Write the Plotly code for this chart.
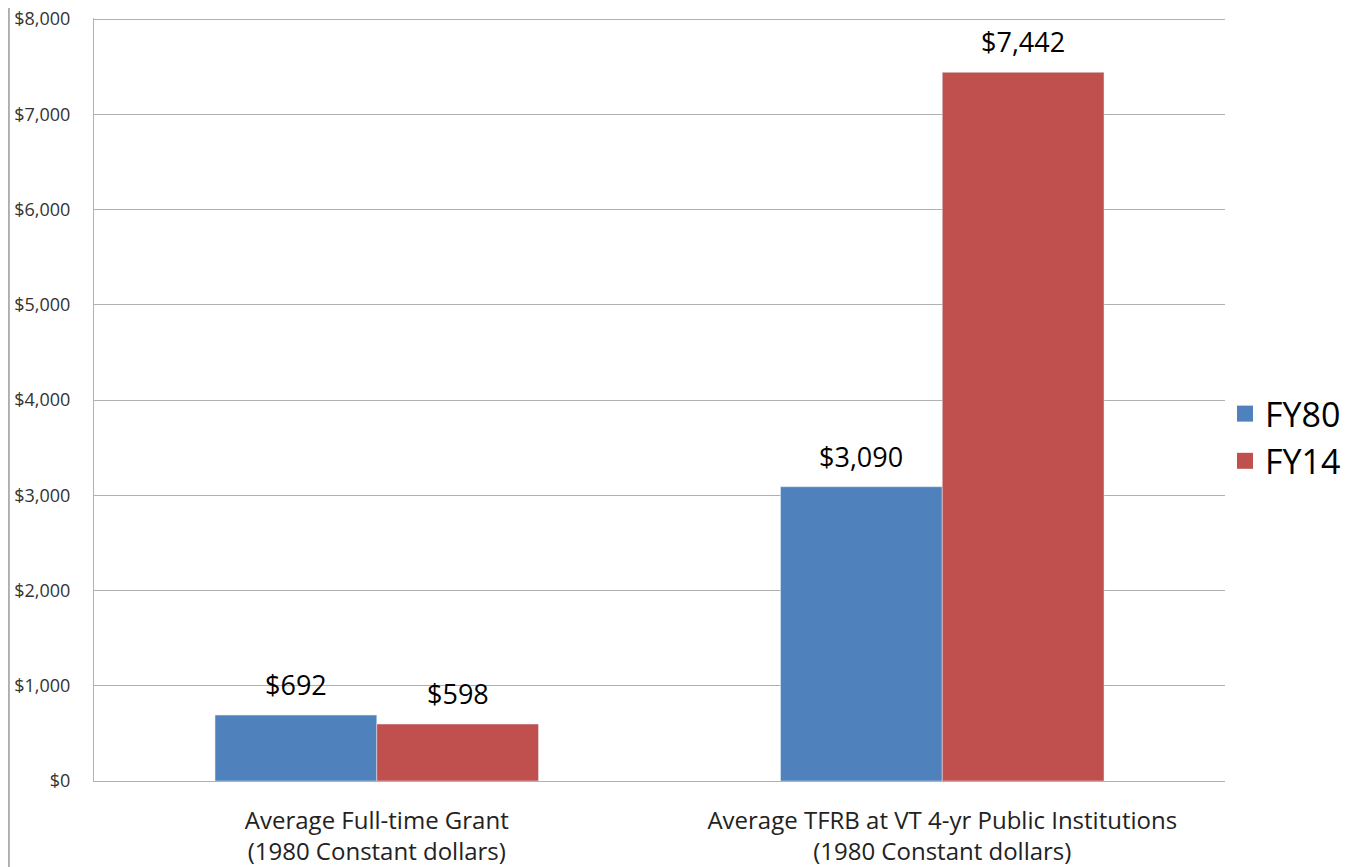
import plotly.graph_objects as go

categories = ["Average Full-time Grant<br>(1980 Constant dollars)",
              "Average TFRB at VT 4-yr Public Institutions<br>(1980 Constant dollars)"]
fy80 = [692, 3090]
fy14 = [598, 7442]
series_names = ["FY80", "FY14"]
colors = ["#4F81BD", "#C0504D"]
tick_vals = [0, 1000, 2000, 3000, 4000, 5000, 6000, 7000, 8000]

font = "Open Sans, Noto Sans, sans-serif"

fig = go.Figure()
for i, (name, vals, col) in enumerate(zip(series_names, [fy80, fy14], colors)):
    fig.add_trace(go.Bar(x=categories, y=vals, name=name, marker_color=col,
                         showlegend=False))
    # legend proxies with bigger squares
    fig.add_trace(go.Scatter(
        x=[None], y=[None], mode="markers", name=name,
        marker=dict(symbol="square", size=22, color=col)))
    # value labels above bars
    shift = -81 if i == 0 else 81
    for cat, v in zip(categories, vals):
        fig.add_annotation(x=cat, y=v, text=f"${v:,}", showarrow=False,
                           xshift=shift, yanchor="bottom", yshift=10,
                           font=dict(size=27, color="#000000", family=font))

# page body adds an 8px offset; margins are set relative to that
fig.update_layout(
    width=1380, height=867,
    margin=dict(l=86, r=158, t=10, b=94),
    paper_bgcolor="white", plot_bgcolor="white",
    barmode="group", bargap=0.428, bargroupgap=0,
    font=dict(family=font, color="#222222"),
    legend=dict(xref="container", yref="container",
                x=0.8819, xanchor="left", y=0.5046, yanchor="middle",
                font=dict(size=34, color="#000000"), tracegroupgap=24,
                itemwidth=30),
    shapes=[dict(type="line", xref="paper", yref="paper",
                 x0=-0.0752, x1=-0.0752, y0=-0.2, y1=1.1,
                 line=dict(color="#999999", width=1.5))],
)
# a little headroom above 8000 so its gridline is kept
fig.update_yaxes(range=[0, 8012], tickvals=tick_vals,
                 ticktext=[f"${v:,}" for v in tick_vals],
                 showgrid=True, gridcolor="#b0b0b0", gridwidth=1,
                 showline=True, linecolor="#b0b0b0", linewidth=1,
                 tickfont=dict(size=18, color="#333333"),
                 ticklabelstandoff=19, ticklabeloverflow="allow",
                 zeroline=False, automargin=False)
fig.update_xaxes(showline=True, linecolor="#b0b0b0", linewidth=1,
                 tickfont=dict(size=24, color="#222222"),
                 ticklabelstandoff=18, automargin=False)

fig.write_html("out.html")
